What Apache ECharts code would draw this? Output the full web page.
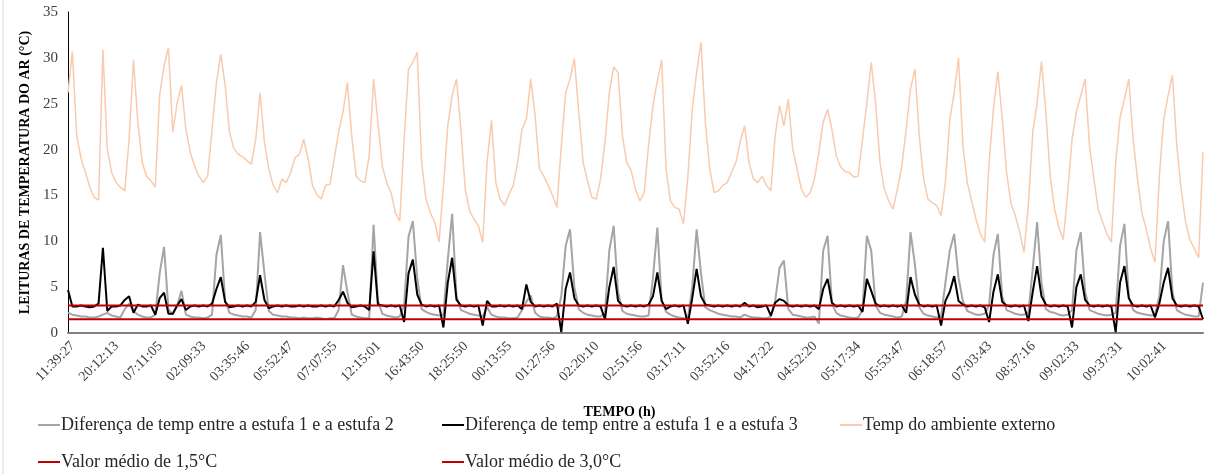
<!DOCTYPE html>
<html>
<head>
<meta charset="utf-8">
<script src="https://cdn.jsdelivr.net/npm/echarts@6/dist/echarts.min.js"></script>
<style>
html,body{margin:0;padding:0;background:#fff;}
#chart{width:1211px;height:474px;}
</style>
</head>
<body>
<div id="chart"></div>
<script>
// Tick labels (one every 10 samples)
const tickLabels = ['11:39:27','20:12:13','07:11:05','02:09:33','03:35:46','05:52:47','07:07:55','12:15:01','16:43:50','18:25:50','00:13:55','01:27:56','02:20:10','02:51:56','03:17:11','03:52:16','04:17:22','04:52:20','05:17:34','05:53:47','06:18:57','07:03:43','08:37:16','09:02:33','09:37:31','10:02:41'];
const samplesPerLabel = 10;

// Diferença de temp entre a estufa 1 e a estufa 2
const diff12 = [
2.2,2.0,1.9,1.8,1.8,1.7,1.7,1.8,2.0,2.2,
1.9,1.8,1.7,2.6,3.2,2.4,2.0,1.8,1.7,1.7,
2.0,6.5,9.4,2.6,2.0,3.0,4.6,2.0,1.8,1.7,
1.7,1.6,1.7,2.0,8.5,10.7,3.5,2.2,2.0,1.9,
1.8,1.8,1.7,2.5,11.0,6.5,2.4,2.0,1.9,1.8,
1.8,1.7,1.7,1.6,1.7,1.6,1.6,1.7,1.6,1.5,
1.6,1.6,2.5,7.4,4.5,2.0,1.8,1.7,1.6,1.6,
11.8,3.5,2.1,1.9,1.8,1.7,1.8,3.0,10.5,12.2,
6.0,2.6,2.3,2.1,2.0,1.9,2.0,8.0,13.0,4.0,
2.5,2.3,2.1,2.0,1.9,1.8,2.8,2.0,1.8,1.7,
1.7,1.6,1.6,1.7,2.5,3.4,4.1,2.2,1.8,1.7,
1.7,1.6,1.8,4.0,9.5,11.3,5.0,2.6,2.2,2.0,
1.9,1.8,1.8,2.2,9.0,11.7,4.5,2.4,2.1,2.0,
1.9,1.8,1.8,1.9,6.0,11.5,3.5,2.3,2.0,1.8,
1.7,1.6,1.6,5.0,11.3,6.5,2.8,2.5,2.3,2.1,
2.0,1.9,1.8,1.8,1.7,2.0,1.8,1.7,1.7,1.6,
1.6,1.8,3.5,7.1,7.9,2.6,2.0,1.9,1.8,1.7,
1.7,1.8,1.0,9.0,10.6,3.2,2.2,1.9,1.8,1.7,
1.6,1.7,2.5,10.6,9.0,3.0,2.2,2.0,1.9,1.8,
1.7,1.8,3.5,11.0,7.5,2.8,2.1,1.9,1.8,1.7,
1.8,5.5,9.0,10.8,6.0,3.5,2.4,2.2,2.0,2.0,
2.1,3.0,8.5,10.8,4.0,2.5,2.3,2.1,2.0,2.0,
2.2,7.0,12.1,5.5,2.6,2.3,2.2,2.0,1.9,2.0,
2.5,9.0,11.0,4.5,2.5,2.3,2.1,2.0,1.9,2.0,
2.2,9.5,11.9,4.0,2.5,2.2,2.1,2.0,1.9,2.0,
4.0,10.0,12.2,4.5,2.5,2.2,2.0,1.9,1.8,1.8,
5.5];

// Diferença de temp entre a estufa 1 e a estufa 3
const diff13 = [
4.7,2.9,2.9,3.0,2.9,2.8,2.9,3.2,9.3,2.4,
2.9,2.9,3.0,3.6,4.0,2.2,3.1,2.9,2.9,3.0,
2.0,3.8,4.4,2.1,2.1,3.0,3.7,2.5,2.9,3.0,
2.9,3.0,2.9,3.2,4.8,6.1,3.4,2.8,2.9,3.0,
2.9,3.0,2.9,3.4,6.3,3.6,2.7,2.9,3.0,2.9,
3.0,2.9,2.9,3.0,2.9,3.0,2.9,2.9,3.0,2.9,
3.0,2.9,3.6,4.5,3.3,2.8,2.9,3.0,2.9,2.5,
8.9,3.1,3.0,2.9,3.0,2.9,3.0,1.2,6.5,8.0,
4.2,3.1,2.9,3.0,2.9,3.0,0.6,5.5,8.2,3.6,
3.0,2.9,3.0,2.9,3.0,0.8,3.5,2.9,2.9,3.0,
2.9,3.0,2.9,3.0,2.6,5.3,3.4,2.9,3.0,2.9,
3.0,2.9,3.2,0.1,4.8,6.6,3.8,3.0,2.9,3.0,
2.9,3.0,2.9,1.5,5.0,7.2,3.5,3.0,2.9,3.0,
2.9,3.0,2.9,3.1,4.0,6.6,3.5,2.6,2.9,3.0,
2.9,3.0,1.0,3.8,7.0,4.0,3.1,3.0,2.9,3.0,
2.9,3.0,2.9,3.0,2.9,3.3,2.9,3.0,2.8,2.9,
3.0,1.9,3.3,3.7,3.5,3.0,2.9,3.0,2.9,3.0,
2.9,3.0,2.6,4.8,5.9,3.3,2.9,3.0,2.9,3.0,
2.9,3.0,2.3,5.9,4.6,3.2,2.9,3.0,2.9,3.0,
2.9,3.0,2.2,6.1,4.2,3.1,2.9,3.0,2.9,3.0,
0.8,3.5,4.5,6.2,3.5,3.1,2.9,3.0,2.9,3.0,
2.8,1.2,4.5,6.4,3.4,3.0,2.9,3.0,2.9,3.0,
1.3,4.5,7.3,4.0,3.1,2.9,3.0,2.9,3.0,2.9,
0.6,5.0,6.4,3.6,3.0,2.9,3.0,2.9,3.0,2.9,
0.1,5.5,7.3,3.8,3.0,2.9,3.0,2.9,3.0,1.7,
3.2,5.5,7.1,3.8,3.0,2.9,3.0,2.9,3.0,2.9,
1.5];

// Temp do ambiente externo
const tempExterno = [
26.2,30.7,21.5,19.0,17.5,15.9,14.8,14.5,30.9,20.0,
17.5,16.4,15.9,15.5,21.1,29.8,23.0,18.6,17.1,16.6,
15.9,26.0,29.1,31.1,21.9,25.1,27.0,22.2,19.7,18.2,
17.1,16.4,17.1,22.2,27.3,30.4,27.0,21.9,20.1,19.5,
19.2,18.8,18.4,21.1,26.2,20.8,17.9,16.1,15.3,16.8,
16.4,17.5,19.1,19.5,21.1,19.0,16.1,15.1,14.6,16.1,
16.2,19.0,21.9,24.1,27.3,21.5,17.1,16.6,16.4,19.3,
27.7,23.0,18.2,16.4,15.3,13.1,12.2,21.1,28.8,29.5,
30.6,18.6,14.6,13.1,12.1,9.9,16.0,22.6,25.9,27.7,
22.2,15.7,13.3,12.4,11.7,9.9,18.6,23.2,16.4,14.6,
13.9,15.1,16.1,18.6,22.2,23.3,27.7,23.7,17.9,17.1,
16.1,15.0,13.7,20.4,26.2,27.7,29.9,24.1,18.6,16.6,
14.8,14.6,16.8,20.8,26.2,29.0,28.4,21.5,18.6,17.7,
15.7,14.4,15.3,20.5,24.8,27.5,29.8,17.9,14.4,13.7,
13.5,11.9,17.0,24.4,28.4,31.7,23.0,17.9,15.3,15.5,
16.1,16.4,17.5,18.6,20.9,22.6,18.6,16.8,16.4,17.1,
16.1,15.5,21.5,24.8,22.6,25.5,20.1,17.9,15.7,14.8,
15.3,16.8,19.7,23.0,24.4,22.2,19.3,18.1,17.6,17.5,
17.0,17.1,21.1,25.1,29.5,25.1,18.6,15.7,14.4,13.5,
15.7,18.2,22.2,26.6,28.8,21.5,16.8,14.6,14.2,13.9,
12.8,16.5,23.3,26.2,30.0,20.4,16.4,14.4,12.4,10.8,
9.9,18.6,24.4,28.5,23.5,17.5,14.2,12.8,11.0,8.8,
14.0,21.9,25.1,29.6,24.1,17.1,13.5,11.5,10.2,15.3,
21.1,24.1,25.9,27.7,20.4,16.8,13.5,12.1,10.8,9.9,
18.6,23.5,25.5,27.7,21.1,16.8,13.1,11.3,9.2,7.7,
17.1,23.3,25.9,28.1,20.4,15.7,12.1,10.2,9.2,8.2,
19.7];

// Mean reference values
const meanLow = 1.5;
const meanHigh = 3.0;

const seriesNames = [
  'Diferença de temp entre a estufa 1 e a estufa 2',
  'Diferença de temp entre a estufa 1 e a estufa 3',
  'Temp do ambiente externo',
  'Valor médio de 1,5°C',
  'Valor médio de 3,0°C'
];
const colors = ['#A5A5A5', '#000000', '#F8CBAD', '#C00000', '#C00000'];

const lastX = diff12.length - 1;
const toXY = arr => arr.map((v, i) => [i, v]);
const constLine = v => [[0, v], [lastX, v]];

const font = '"Liberation Serif", "Times New Roman", serif';
const chart = echarts.init(document.getElementById('chart'), null, {renderer: 'canvas'});

function legendItem(name, left, top) {
  return {
    data: [name], left: left, top: top, orient: 'horizontal',
    icon: 'rect', itemWidth: 22, itemHeight: 2, itemGap: 0,
    padding: 0,
    textStyle: {fontFamily: font, fontSize: 18, color: '#262626', padding: [0, 0, 0, -4]},
    selectedMode: false
  };
}

chart.setOption({
  animation: false,
  backgroundColor: '#fff',
  graphic: [{
    type: 'line', shape: {x1: 3, y1: 0, x2: 3, y2: 474},
    style: {stroke: '#d9d9d9', lineWidth: 1}, silent: true
  }],
  grid: {left: 68, right: 8, top: 12, bottom: 141, containLabel: false},
  legend: [
    legendItem(seriesNames[0], 38, 416),
    legendItem(seriesNames[1], 442, 416),
    legendItem(seriesNames[2], 840, 416),
    legendItem(seriesNames[3], 38, 453),
    legendItem(seriesNames[4], 442, 453)
  ],
  xAxis: {
    type: 'value', min: 0, max: lastX, interval: samplesPerLabel,
    name: 'TEMPO (h)', nameLocation: 'middle', nameGap: 72,
    nameTextStyle: {fontFamily: font, fontSize: 14, fontWeight: 'bold', color: '#000', padding: [0, 32, 0, 0]},
    axisLine: {show: true, onZero: false, lineStyle: {color: '#808080', width: 2}},
    axisTick: {show: false},
    splitLine: {show: false},
    axisLabel: {
      rotate: 45, margin: 6, fontFamily: font, fontSize: 14, color: '#404040',
      verticalAlign: 'top',
      formatter: v => tickLabels[Math.round(v / samplesPerLabel)] || '',
      showMaxLabel: false
    }
  },
  yAxis: {
    type: 'value', min: 0, max: 35, interval: 5,
    name: 'LEITURAS DE TEMPERATURA DO AR (°C)', nameLocation: 'middle', nameGap: 30, nameRotate: 90,
    nameTextStyle: {fontFamily: font, fontSize: 14, fontWeight: 'bold', color: '#000'},
    axisLine: {show: true, lineStyle: {color: '#000', width: 1}},
    axisTick: {show: false},
    splitLine: {show: false},
    axisLabel: {fontFamily: font, fontSize: 15, color: '#404040', margin: 10}
  },
  series: [
    {name: seriesNames[0], type: 'line', data: toXY(diff12), showSymbol: false, symbol: 'none',
     lineStyle: {color: colors[0], width: 2}, itemStyle: {color: colors[0]}, z: 2},
    {name: seriesNames[1], type: 'line', data: toXY(diff13), showSymbol: false, symbol: 'none',
     lineStyle: {color: colors[1], width: 2}, itemStyle: {color: colors[1]}, z: 3},
    {name: seriesNames[2], type: 'line', data: toXY(tempExterno), showSymbol: false, symbol: 'none',
     lineStyle: {color: colors[2], width: 1.5}, itemStyle: {color: colors[2]}, z: 4},
    {name: seriesNames[3], type: 'line', data: constLine(meanLow), showSymbol: false, symbol: 'none',
     lineStyle: {color: colors[3], width: 2}, itemStyle: {color: colors[3]}, z: 5},
    {name: seriesNames[4], type: 'line', data: constLine(meanHigh), showSymbol: false, symbol: 'none',
     lineStyle: {color: colors[4], width: 2}, itemStyle: {color: colors[4]}, z: 5}
  ]
});
</script>
</body>
</html>
